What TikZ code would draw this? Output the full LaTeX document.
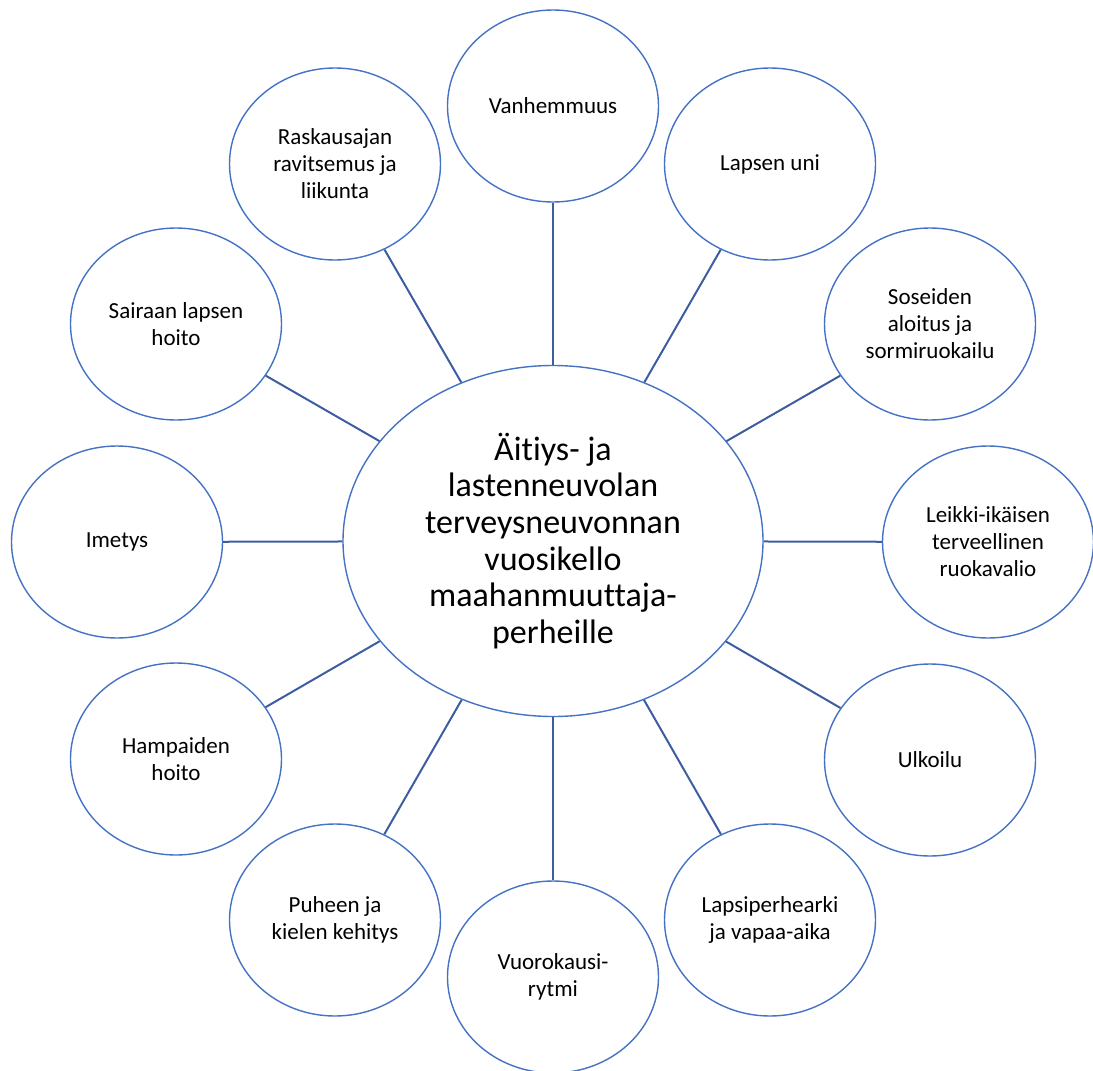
\documentclass[tikz,border=0pt]{standalone}
\usepackage{fontspec}
\setmainfont{Carlito}[Ligatures=NoCommon]
\usetikzlibrary{shapes.geometric}
\definecolor{kehablue}{RGB}{68,114,196}
\definecolor{viivablue}{RGB}{60,94,160}
\tikzset{
	aihe/.style={draw=kehablue,line width=1.4pt,ellipse,fill=white,minimum width=211pt,minimum height=192pt,inner sep=0pt,align=center,font=\fontsize{23}{27}\selectfont},
	keskus/.style={draw=kehablue,line width=1.4pt,ellipse,fill=white,minimum width=420pt,minimum height=351pt,inner sep=0pt,align=center,font=\fontsize{34}{36.7}\selectfont},
	viiva/.style={draw=viivablue,line width=2pt}
}
\begin{document}
\begin{tikzpicture}[x=1pt,y=-1pt]
				\useasboundingbox (0,0) rectangle (1093,1071);
				\node[keskus] (vuosikello) at (553,541) {Äitiys- ja\\lastenneuvolan\\terveysneuvonnan\\vuosikello\\maahanmuuttaja-\\perheille};
				\node[aihe] (vanhemmuus) at (553,106) {Vanhemmuus};
				\node[aihe] (uni) at (770,164) {Lapsen uni};
				\node[aihe] (soseet) at (930,324) {Soseiden\\aloitus ja\\sormiruokailu};
				\node[aihe] (ruokavalio) at (988,542) {Leikki-ikäisen\\terveellinen\\ruokavalio};
				\node[aihe] (ulkoilu) at (930,760) {Ulkoilu};
				\node[aihe] (arki) at (770,920) {Lapsiperhearki\\ja vapaa-aika};
				\node[aihe] (rytmi) at (553,977) {Vuorokausi-\\rytmi};
				\node[aihe] (puhe) at (335,920) {Puheen ja\\kielen kehitys};
				\node[aihe] (hampaat) at (176,759) {Hampaiden\\hoito};
				\node[aihe] (imetys) at (117,542) {Imetys};
				\node[aihe] (sairas) at (176,324) {Sairaan lapsen\\hoito};
				\node[aihe] (raskaus) at (335,164) {Raskausajan\\ravitsemus ja\\liikunta};
				% viivat keskelta aiheisiin
				\draw[viiva] (vuosikello) -- (vanhemmuus);
				\draw[viiva] (vuosikello) -- (uni);
				\draw[viiva] (vuosikello) -- (soseet);
				\draw[viiva] (vuosikello) -- (ruokavalio);
				\draw[viiva] (vuosikello) -- (ulkoilu);
				\draw[viiva] (vuosikello) -- (arki);
				\draw[viiva] (vuosikello) -- (rytmi);
				\draw[viiva] (vuosikello) -- (puhe);
				\draw[viiva] (vuosikello) -- (hampaat);
				\draw[viiva] (vuosikello) -- (imetys);
				\draw[viiva] (vuosikello) -- (sairas);
				\draw[viiva] (vuosikello) -- (raskaus);
		\end{tikzpicture}
\end{document}
